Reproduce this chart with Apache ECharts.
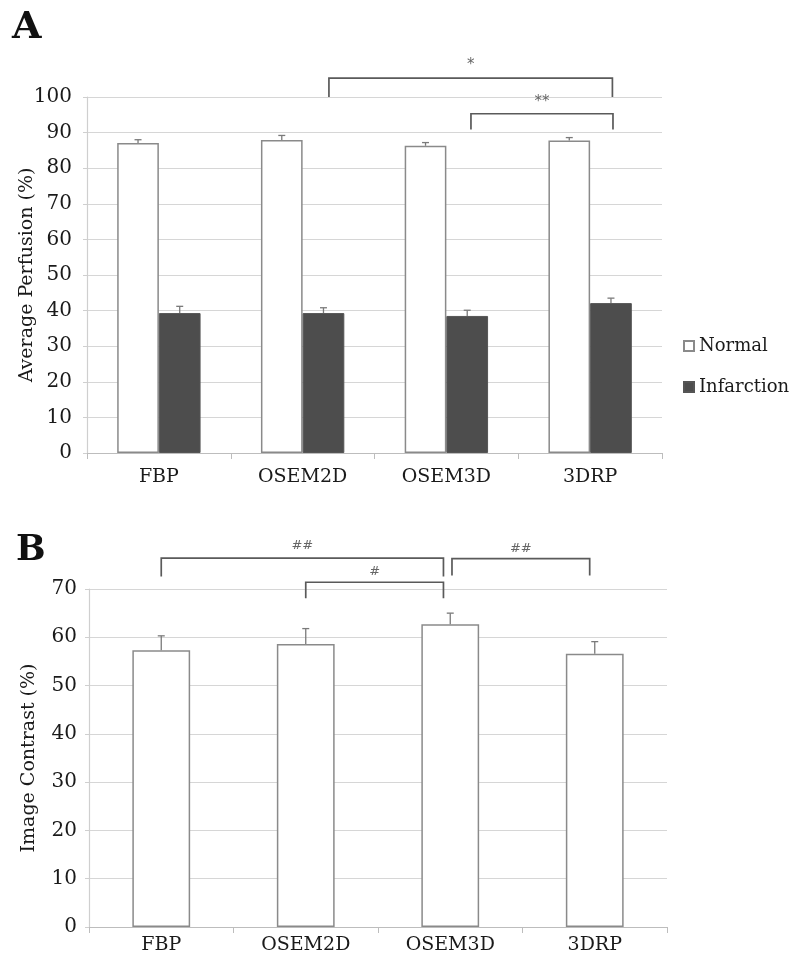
<!DOCTYPE html>
<html>
<head>
<meta charset="utf-8">
<script src="https://cdn.jsdelivr.net/npm/echarts@6/dist/echarts.min.js"></script>
<style>
html,body{margin:0;padding:0;background:#fff;}
#chart{width:792px;height:961px;}
</style>
</head>
<body>
<div id="chart"></div>
<script>
// ---- data ----
const categories = ['FBP', 'OSEM2D', 'OSEM3D', '3DRP'];
const normalMean = [87.1, 87.9, 86.3, 87.8];
const normalErr = [0.9, 1.3, 0.9, 0.8];
const infarctMean = [39.3, 39.3, 38.5, 42.1];
const infarctErr = [1.9, 1.5, 1.6, 1.4];
const contrastMean = [57.3, 58.6, 62.7, 56.6];
const contrastErr = [3.0, 3.2, 2.3, 2.5];
// significance brackets: category-index positions and y levels (data units)
const bracketsA = [
  {x1: 1.183, x2: 3.155, top: 105.3, leg: 100.0, label: '*', ly: 109.0},
  {x1: 2.171, x2: 3.159, top: 95.3, leg: 90.9, label: '**', ly: 98.5}
];
const bracketsB = [
  {x1: 0.0, x2: 1.953, top: 76.4, leg: 72.6, label: '##', ly: 78.9},
  {x1: 1.0, x2: 1.953, top: 71.4, leg: 68.1, label: '#', ly: 73.5},
  {x1: 2.012, x2: 2.965, top: 76.3, leg: 72.8, label: '##', ly: 78.4}
];

const FONT = 'DejaVu Serif';
const BW_A = 0.29;   // bar width as fraction of category (chart A)
const BW_B = 0.40;   // chart B

const chart = echarts.init(document.getElementById('chart'), null, {renderer: 'canvas'});

function errRender(params, api) {
  const x = api.value(0), y = api.value(1), e = api.value(2);
  const p0 = api.coord([x, y]);
  const p1 = api.coord([x, y + e]);
  const cap = 3.5;
  const st = {stroke: '#7a7a7a', lineWidth: 1.3};
  return {type: 'group', children: [
    {type: 'line', shape: {x1: p0[0], y1: p0[1], x2: p1[0], y2: p1[1]}, style: st},
    {type: 'line', shape: {x1: p1[0] - cap, y1: p1[1], x2: p1[0] + cap, y2: p1[1]}, style: st}
  ]};
}
function bracketRender(list) {
  return function (params, api) {
    const b = list[params.dataIndex];
    const a = api.coord([b.x1, b.leg]);
    const c = api.coord([b.x1, b.top]);
    const d = api.coord([b.x2, b.top]);
    const f = api.coord([b.x2, b.leg]);
    const t = api.coord([(b.x1 + b.x2) / 2, b.ly]);
    const isStar = b.label.indexOf('*') >= 0;
    return {type: 'group', children: [
      {type: 'polyline', shape: {points: [a, c, d, f]}, style: {stroke: '#5a5a5a', lineWidth: 1.7, fill: null}},
      {type: 'text', x: t[0], y: t[1], style: {text: b.label, fill: '#666', font: (isStar ? '15px' : '13px') + ' DejaVu Sans', textAlign: 'center', textVerticalAlign: 'middle'}}
    ]};
  };
}

const errNormalA = categories.map((c, i) => [i - BW_A / 2, normalMean[i], normalErr[i]]);
const errInfA = categories.map((c, i) => [i + BW_A / 2, infarctMean[i], infarctErr[i]]);
const errB = categories.map((c, i) => [i, contrastMean[i], contrastErr[i]]);

const catAxisCommon = {
  type: 'category', data: categories, boundaryGap: true,
  axisLine: {show: true, lineStyle: {color: '#bdbdbd', width: 1.2}},
  axisTick: {show: true, length: 6, lineStyle: {color: '#bdbdbd'}},
  axisLabel: {color: '#1a1a1a', fontFamily: FONT, fontSize: 19}
};
const valXAxisHidden = {type: 'value', min: -0.5, max: 3.5, show: false,
  axisLine: {show: false}, splitLine: {show: false}, axisTick: {show: false}, axisLabel: {show: false}};
const yAxisCommon = {
  type: 'value', min: 0, interval: 10,
  axisLine: {show: true, onZero: false, lineStyle: {color: '#cfcfcf', width: 1.2}},
  axisTick: {show: true, length: 4, lineStyle: {color: '#cfcfcf'}},
  splitLine: {show: true, lineStyle: {color: '#d6d6d6', width: 1.2}},
  axisLabel: {color: '#1a1a1a', fontFamily: FONT, fontSize: 20},
  nameLocation: 'middle',
  nameMoveOverlap: false,
  nameTextStyle: {color: '#1a1a1a', fontFamily: FONT, fontSize: 19}
};

const option = {
  backgroundColor: '#fff',
  animation: false,
  graphic: [
    {type: 'text', left: 12, top: 9, style: {text: 'A', font: 'bold 38px DejaVu Serif', fill: '#111'}},
    {type: 'text', left: 16, top: 533, style: {text: 'B', font: 'bold 35px DejaVu Serif', fill: '#111'}}
  ],
  legend: {
    data: ['Normal', 'Infarction'],
    orient: 'vertical', left: 678, top: 332,
    icon: 'rect', itemWidth: 10, itemHeight: 10, itemGap: 23,
    textStyle: {fontFamily: FONT, fontSize: 18, color: '#1a1a1a'},
    selectedMode: false
  },
  grid: [
    {left: 87, right: 130, top: 97, bottom: 508, containLabel: false, outerBoundsMode: 'none'},
    {left: 89, right: 125, top: 589, bottom: 34, containLabel: false, outerBoundsMode: 'none'}
  ],
  xAxis: [
    Object.assign({}, catAxisCommon, {gridIndex: 0, axisLabel: Object.assign({}, catAxisCommon.axisLabel, {margin: 15})}),
    Object.assign({}, valXAxisHidden, {gridIndex: 0}),
    Object.assign({}, catAxisCommon, {gridIndex: 1, axisLabel: Object.assign({}, catAxisCommon.axisLabel, {margin: 9})}),
    Object.assign({}, valXAxisHidden, {gridIndex: 1})
  ],
  yAxis: [
    Object.assign({}, yAxisCommon, {gridIndex: 0, max: 100, name: 'Average Perfusion (%)', nameGap: 50,
      axisLabel: Object.assign({}, yAxisCommon.axisLabel, {margin: 15})}),
    Object.assign({}, yAxisCommon, {gridIndex: 1, max: 70, name: 'Image Contrast (%)', nameGap: 50,
      axisLabel: Object.assign({}, yAxisCommon.axisLabel, {margin: 12})})
  ],
  series: [
    {name: 'Normal', type: 'bar', xAxisIndex: 0, yAxisIndex: 0, data: normalMean,
      barWidth: (BW_A * 100) + '%', barGap: '0%',
      itemStyle: {color: '#ffffff', borderColor: '#8a8a8a', borderWidth: 1.5}},
    {name: 'Infarction', type: 'bar', xAxisIndex: 0, yAxisIndex: 0, data: infarctMean,
      barWidth: (BW_A * 100) + '%', barGap: '0%',
      itemStyle: {color: '#4d4d4d', borderColor: '#555555', borderWidth: 1}},
    {type: 'custom', xAxisIndex: 1, yAxisIndex: 0, data: errNormalA, renderItem: errRender, z: 5, clip: false},
    {type: 'custom', xAxisIndex: 1, yAxisIndex: 0, data: errInfA, renderItem: errRender, z: 5, clip: false},
    {type: 'custom', xAxisIndex: 1, yAxisIndex: 0, data: bracketsA.map(b => [b.x1, b.top]), renderItem: bracketRender(bracketsA), z: 6, clip: false},
    {name: 'Contrast', type: 'bar', xAxisIndex: 2, yAxisIndex: 1, data: contrastMean,
      barWidth: (BW_B * 100) + '%',
      itemStyle: {color: '#ffffff', borderColor: '#8a8a8a', borderWidth: 1.5}},
    {type: 'custom', xAxisIndex: 3, yAxisIndex: 1, data: errB, renderItem: errRender, z: 5, clip: false},
    {type: 'custom', xAxisIndex: 3, yAxisIndex: 1, data: bracketsB.map(b => [b.x1, b.top]), renderItem: bracketRender(bracketsB), z: 6, clip: false}
  ]
};
chart.setOption(option);
</script>
</body>
</html>
